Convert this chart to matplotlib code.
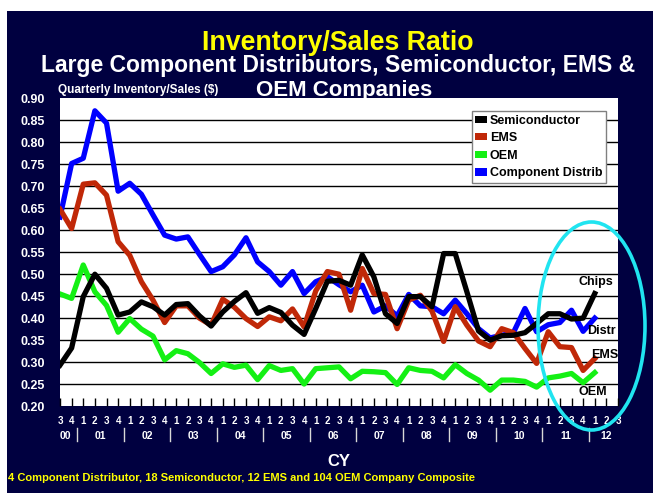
import matplotlib
matplotlib.use('Agg')
import numpy as np
import matplotlib.pyplot as plt
from matplotlib.patches import Rectangle, Ellipse, Patch
from matplotlib.transforms import blended_transform_factory

plt.rcParams['font.family'] = ['Liberation Sans', 'DejaVu Sans']
plt.rcParams['font.weight'] = 'bold'

# quarter labels 2000 Q3 .. 2012 Q3
quarters = ['3', '4'] + ['1', '2', '3', '4'] * 11 + ['1', '2', '3']
years = ['00', '01', '02', '03', '04', '05', '06', '07', '08', '09', '10', '11', '12']

semiconductor = [0.293, 0.332, 0.449, 0.500, 0.468, 0.407, 0.414, 0.437, 0.426, 0.407,
                 0.431, 0.433, 0.405, 0.382, 0.414, 0.438, 0.458, 0.411, 0.424, 0.413,
                 0.384, 0.363, 0.422, 0.484, 0.486, 0.475, 0.544, 0.494, 0.410, 0.388,
                 0.449, 0.449, 0.426, 0.547, 0.547, 0.460, 0.371, 0.350, 0.360, 0.361,
                 0.367, 0.388, 0.410, 0.410, 0.398, 0.400, 0.456]
ems = [0.648, 0.604, 0.705, 0.708, 0.680, 0.574, 0.543, 0.483, 0.441, 0.390,
       0.428, 0.428, 0.400, 0.384, 0.443, 0.425, 0.399, 0.381, 0.403, 0.394,
       0.421, 0.380, 0.462, 0.506, 0.500, 0.418, 0.513, 0.456, 0.454, 0.376,
       0.441, 0.452, 0.416, 0.347, 0.426, 0.384, 0.348, 0.335, 0.376, 0.367,
       0.331, 0.297, 0.369, 0.335, 0.333, 0.281, 0.308]
oem = [0.455, 0.445, 0.521, 0.460, 0.429, 0.368, 0.399, 0.375, 0.359, 0.305,
       0.326, 0.319, 0.299, 0.274, 0.296, 0.288, 0.293, 0.260, 0.292, 0.281,
       0.285, 0.250, 0.285, 0.287, 0.289, 0.262, 0.279, 0.278, 0.276, 0.249,
       0.287, 0.281, 0.279, 0.264, 0.294, 0.274, 0.259, 0.236, 0.259, 0.259,
       0.256, 0.243, 0.264, 0.268, 0.274, 0.253, 0.276]
distrib = [0.630, 0.752, 0.764, 0.872, 0.844, 0.689, 0.707, 0.682, 0.635, 0.589,
           0.580, 0.585, 0.545, 0.506, 0.517, 0.544, 0.583, 0.528, 0.506, 0.475,
           0.506, 0.456, 0.483, 0.494, 0.476, 0.460, 0.475, 0.414, 0.428, 0.405,
           0.454, 0.428, 0.426, 0.410, 0.441, 0.410, 0.376, 0.355, 0.361, 0.367,
           0.422, 0.369, 0.385, 0.390, 0.418, 0.370, 0.400]

series_names = ['Semiconductor', 'EMS', 'OEM', 'Component Distrib']
colors = ['black', '#c02808', '#14f014', '#0000ff']

W, H = 653, 494
fig = plt.figure(figsize=(W / 100, H / 100), dpi=100, facecolor='white')

# navy slide background
fig.add_artist(Rectangle((7 / W, 1 / H), 1 - 7 / W, (H - 12) / H, transform=fig.transFigure,
                         facecolor='#000040', edgecolor='none', zorder=-10))

ax = fig.add_axes([60 / W, 1 - 406 / H, 558 / W, 307.5 / H])
ax.set_facecolor('white')
for s in ax.spines.values():
    s.set_visible(False)

x = np.arange(len(semiconductor))
data = [semiconductor, ems, oem, distrib]
zorders = [5, 4, 3, 3]
for vals, c, z in zip(data, colors, zorders):
    ax.plot(x, vals, color=c, lw=3.8, zorder=z, solid_joinstyle='round')

yticks = np.arange(0.20, 0.901, 0.05)
for v in yticks[1:-1]:
    ax.axhline(v, color='black', lw=1, zorder=1)

ax.set_ylim(0.2, 0.9)
ax.set_xlim(0, len(quarters) - 1)
ax.set_yticks(yticks)
ax.set_yticklabels([f'{v:.2f}' for v in yticks])
ax.set_xticks(np.arange(len(quarters)))
ax.set_xticklabels(quarters)
ax.tick_params(axis='y', length=0, pad=11, labelcolor='white', labelsize=9)
ax.tick_params(axis='x', direction='in', length=6, width=1, color='black', pad=7.5,
               labelcolor='white', labelsize=7)

# year labels and separators under the quarter labels
tr = blended_transform_factory(ax.transData, ax.transAxes)
year_pos = [0.5] + [3.5 + 4 * k for k in range(11)] + [47]
for pos, yr in zip(year_pos, years):
    ax.text(pos, -0.097, yr, transform=tr, ha='center', va='center', color='white', fontsize=7.5)
for k in range(12):
    sx = 1.5 + 4 * k
    ax.plot([sx, sx], [-0.072, -0.114], transform=tr, color='#d8d8d8', lw=1, clip_on=False)

fig.text(339 / W, 1 - 461 / H, 'CY', ha='center', va='center', color='white', fontsize=12)
fig.text(8 / W, 1 - 478 / H, '4 Component Distributor, 18 Semiconductor, 12 EMS and 104 OEM Company Composite',
         ha='left', va='center', color='#ffff00', fontsize=8)

# titles
fig.text(338 / W, 1 - 50 / H, 'Inventory/Sales Ratio', ha='center', va='baseline',
         color='#ffff00', fontsize=19.3)
fig.text(338 / W, 1 - 72 / H, 'Large Component Distributors, Semiconductor, EMS &',
         ha='center', va='baseline', color='white', fontsize=16.5)
fig.text(256 / W, 1 - 96 / H, 'OEM Companies', ha='left', va='baseline', color='white', fontsize=16)
fig.text(58 / W, 1 - 93 / H, 'Quarterly Inventory/Sales ($)', ha='left', va='baseline',
         color='white', fontsize=8.5)

handles = [Patch(facecolor=c, edgecolor='none') for c in colors]
leg = ax.legend(handles, series_names, loc='upper right', bbox_to_anchor=(0.9785, 0.96),
                borderaxespad=0, fancybox=False, framealpha=1, edgecolor='#808080',
                fontsize=9, handlelength=0.9, handleheight=0.5, handletextpad=0.25,
                borderpad=0.3, labelspacing=0.45)
leg.get_frame().set_linewidth(1)
leg.set_zorder(10)

# end-of-series annotations
ax.text(46.1, 0.482, 'Chips', ha='center', va='center', fontsize=9, color='black', zorder=6)
ax.text(46.6, 0.370, 'Distr', ha='center', va='center', fontsize=9, color='black', zorder=6)
ax.text(46.9, 0.315, 'EMS', ha='center', va='center', fontsize=9, color='black', zorder=6,
        clip_on=False)
ax.text(45.85, 0.231, 'OEM', ha='center', va='center', fontsize=9, color='black', zorder=6)

fig.add_artist(Ellipse((591.5 / W, 1 - 326 / H), 107 / W, 208 / H, transform=fig.transFigure,
                       fill=False, edgecolor='#20e4f0', lw=2.6, zorder=5))

fig.savefig('out.png', dpi=100, facecolor=fig.get_facecolor())
